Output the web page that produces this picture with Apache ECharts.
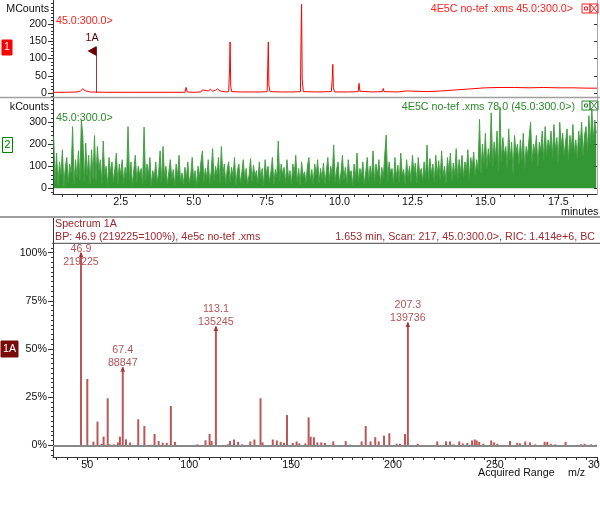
<!DOCTYPE html>
<html>
<head>
<meta charset="utf-8">
<script src="https://cdn.jsdelivr.net/npm/echarts@6.0.0/dist/echarts.min.js"></script>
<style>html,body{margin:0;padding:0;background:#fff}#main{width:600px;height:505px}</style>
</head>
<body>
<div id="main"></div>
<script>
// panel 1: TIC, 45.0:300.0> (MCounts)
var ticTime = [0.18,0.6,1.0,1.12,1.2,1.3,1.45,2.0,3.0,4.0,
  4.7,4.74,4.78,5.0,5.25,5.3,5.36,5.5,5.58,5.65,
  5.75,5.82,5.9,5.96,6.1,6.2,6.23,6.25,6.27,6.3,
  6.6,7.0,7.3,7.52,7.54,7.56,7.58,7.62,8.0,8.4,
  8.66,8.68,8.70,8.72,8.76,9.2,9.72,9.75,9.77,9.79,
  9.83,10.3,10.64,10.67,10.7,11.1,11.47,11.5,11.53,12.0,
  12.3,12.35,13.0,13.5,14.0,14.5,15.0,15.5,16.0,16.5,
  17.0,17.5,18.0,18.5,18.83];
var ticMCounts = [2,2,3,6,12,6,3,2,2,2,
  2,16,3,2,3,9,4,6,11,5,
  8,12,6,3,3,4,70,148,20,4,
  3,3,3,4,80,148,20,4,3,3,
  4,150,257,40,4,3,4,40,83,15,
  3,3,4,28,5,3,4,13,4,3,
  6,3,4,6,9,12,15,16,16,15,
  16,15,15,14,14];

// panel 2: ion 78.0 (kCounts), one value every 0.05 min from 0.20 min
var eicStart = 0.2, eicStep = 0.05;
var eicKCounts = [
  235,30,160,15,120,60,175,10,95,140,25,110,70,280,20,130,50,170,40,310,
  240,30,205,60,150,20,175,45,240,35,190,80,130,25,215,60,100,15,140,70,
  120,30,90,160,20,110,60,130,25,95,50,280,40,120,15,85,150,30,100,60,
  90,20,278,35,110,60,140,15,80,45,120,30,70,170,25,190,50,100,20,75,
  130,40,85,15,110,55,150,30,70,20,95,45,120,25,60,140,35,80,15,100,
  50,120,170,30,90,45,130,20,75,180,35,100,60,140,25,190,55,110,20,85,
  120,30,95,50,140,15,80,110,25,70,130,40,90,20,60,135,30,105,55,80,
  25,120,45,90,15,130,60,100,30,75,140,20,85,50,215,35,110,60,95,25,
  130,45,80,20,110,60,150,30,90,15,120,55,75,25,100,140,35,85,20,110,
  60,130,25,90,45,115,20,80,140,35,100,55,197,30,85,120,20,70,150,40,
  95,25,130,60,80,15,110,45,160,30,90,55,120,20,75,140,35,100,50,170,
  30,110,60,130,20,95,45,150,242,35,120,70,90,25,140,50,105,30,160,60,
  85,20,130,55,100,30,150,70,115,25,140,60,90,35,120,50,197,40,135,65,
  110,30,150,60,125,40,170,55,100,25,140,75,160,35,115,60,180,45,130,70,
  150,50,120,80,175,40,140,95,165,60,130,85,313,70,200,110,250,90,180,120,
  343,100,210,140,260,80,370,120,230,150,190,95,270,130,210,70,240,160,200,110,
  220,130,250,90,190,150,230,300,120,200,160,240,100,210,170,260,130,280,150,220,
  180,260,140,290,170,230,120,300,190,250,150,210,270,130,240,180,290,160,220,140,
  260,190,300,150,240,280,170,330,200,360,220,310,250];

// panel 3: spectrum 1A (m/z, % of base peak)
var specMz = [46.9,50,53,55,57,58,60,61,63,65,66,67.4,69,71,75,78,81,83,85,87,89,91,93,
  104,108,110,111,113.1,119,120,122,124,126,130,132,135,136,141,143,144.9,146.5,148,
  150.8,152.7,154,157,158.6,159.6,161.2,162.9,164.8,166.6,170.7,176.8,178.9,184.6,186.6,
  189,191.3,193,195.6,198.2,201.8,203.4,205.9,207.3,212.1,221.7,226,228,229.6,232.5,
  234.2,236.5,238.8,240.1,241.1,242.3,244.3,248.2,249.6,251.2,257.4,261,262.3,264.9,
  267.2,269.8,274.4,275.7,277.4,279.6,284.7,292.3,294,297.2,299.6];
var specPct = [100,34.4,1.9,12.3,0.8,4.5,24.4,0.5,0.5,1.5,4.5,40.5,3.1,1.5,13.5,10,0.3,5.9,2.2,1.3,1.3,20.4,1.8,
  0.5,2.6,5.9,2.2,61.7,0.5,2.2,3,1.8,0.5,2,3,24.4,1.5,3,2.5,1.8,1.3,15.7,
  1.3,2,1,1,14.5,4.5,4.2,1.5,1.5,1.2,2,2.2,0.3,2,10,
  2,4.2,2,5,6.2,0.8,0.8,5.9,63.7,0.8,2,2,2,0.5,2,
  1,1.3,2.5,3,2.5,1.8,0.8,2.5,1.5,0.8,2.2,1.3,1,2,
  1.5,0.5,1.8,1.8,0.8,0.5,1.8,0.5,0.8,0.5,0.3];
var peakMz = [46.9, 67.4, 113.1, 207.3];
var peakCounts = [219225, 88847, 135245, 139736];
var basePeak = 219225;
var scanTime = 1.653;

// tick labels
var timeTicks = [2.5, 5.0, 7.5, 10.0, 12.5, 15.0, 17.5];
var ticTicks = [0, 50, 100, 150, 200];
var eicTicks = [0, 100, 200, 300];
var pctTicks = [0, 25, 50, 75, 100];
var mzTicks = [50, 100, 150, 200, 250, 300];

var FF = "'Liberation Sans', Arial, sans-serif";
var FS = 10.7;
var FONT = FS + 'px ' + FF;
var RED = '#ff2020', GREEN = '#2a8a2a', BROWN = '#a0282d';
var tMin = 0.178, tMax = 18.827, mzMin = 33.17, mzMax = 300.1;

function range(a, b, s) {
    var r = [];
    for (var v = a; v <= b + 1e-9; v += s) r.push(+v.toFixed(3));
    return r;
}
function ax(o) {
    var base = {
	type : 'value',
	splitLine : { show : false },
	axisLine : { show : true, onZero : false, lineStyle : { color : '#333', width : 1 } },
	axisTick : { show : false },
	axisLabel : { show : false }
    };
    for (var k in o) base[k] = o[k];
    return base;
}
var noLine = { show : false, onZero : false };
function ticks(vals, len, inside) {
    return { show : true, length : len, inside : !!inside, customValues : vals, lineStyle : { color : '#333' } };
}
function labels(vals, margin, fmt) {
    return { show : true, customValues : vals, margin : margin, color : '#111',
	fontSize : FS, fontFamily : FF, formatter : fmt };
}
function txt(x, y, text, color, align) {
    return { type : 'text', x : x, y : y, silent : true, z : 10,
	style : { text : text, fill : color, font : FONT,
	    textAlign : align || 'left', textVerticalAlign : 'middle',
	    align : align || 'left', verticalAlign : 'middle' } };
}
function line(x1, y1, x2, y2, color, w) {
    return { type : 'line', silent : true, z : 5, shape : { x1 : x1, y1 : y1, x2 : x2, y2 : y2 },
	style : { stroke : color, lineWidth : w } };
}
function rect(x, y, w, h, fill, stroke) {
    return { type : 'rect', silent : true, z : 9, shape : { x : x, y : y, width : w, height : h },
	style : { fill : fill, stroke : stroke, lineWidth : 1 } };
}
function icons(y, color) {
    return [ rect(582, y, 8, 9, 'rgba(0,0,0,0)', color), rect(584.5, y + 3, 3, 3, 'rgba(0,0,0,0)', color),
	rect(590, y, 8, 9, 'rgba(0,0,0,0)', color),
	line(591, y + 1, 597, y + 8, color, 1), line(597, y + 1, 591, y + 8, color, 1) ];
}

var ticData = [];
for (var i = 0; i < Math.min(ticTime.length, ticMCounts.length); i++) ticData.push([ ticTime[i], ticMCounts[i] ]);
var eicData = eicKCounts.map(function(v, i) { return [ +(eicStart + i * eicStep).toFixed(3), v ]; });
var specData = specMz.map(function(m, i) { return [ m, specPct[i] ]; });
var peakData = peakMz.map(function(m, i) {
    var item = { value : [ m, peakCounts[i] / basePeak * 100 ], name : m.toFixed(1) + '\n' + peakCounts[i] };
    if (peakCounts[i] === basePeak) item.label = { offset : [ 0, 17 ] };
    return item;
});

var myChart = echarts.init(document.getElementById('main'));
var option = {
    animation : false,
    grid : [
	{ left : 53, right : 3, top : 0, height : 97, outerBoundsMode : 'none' },
	{ left : 53, right : 3, top : 98, height : 96, outerBoundsMode : 'none' },
	{ left : 53, right : 3, top : 217, height : 240, outerBoundsMode : 'none' }
    ],
    xAxis : [
	ax({ gridIndex : 0, position : 'bottom', min : tMin, max : tMax, axisLine : { show : true, onZero : false, lineStyle : { color : '#555' } } }),
	ax({ gridIndex : 1, position : 'bottom', min : tMin, max : tMax, axisTick : ticks(timeTicks, 5),
	    axisLabel : labels(timeTicks, 3, function(v) { return v.toFixed(1); }) }),
	ax({ gridIndex : 1, position : 'bottom', min : tMin, max : tMax, axisLine : noLine, axisTick : ticks(range(0.5, 18.5, 0.5), 3) }),
	ax({ gridIndex : 2, position : 'bottom', min : mzMin, max : mzMax, axisTick : ticks(mzTicks, 6),
	    axisLabel : labels(mzTicks, 3, function(v) { return String(v); }) }),
	ax({ gridIndex : 2, position : 'bottom', min : mzMin, max : mzMax, axisLine : noLine, axisTick : ticks(range(35, 300, 5), 3) })
    ],
    yAxis : [
	ax({ gridIndex : 0, position : 'left', min : -11.6, max : 269.6, axisTick : ticks(ticTicks, 5),
	    axisLabel : labels(ticTicks, 6, function(v) { return String(v); }) }),
	ax({ gridIndex : 0, position : 'left', min : -11.6, max : 269.6, axisLine : noLine, axisTick : ticks(range(-10, 260, 10), 2) }),
	ax({ gridIndex : 0, position : 'right', min : -11.6, max : 269.6, axisLine : { show : true, onZero : false, lineStyle : { color : '#aaa' } },
	    axisTick : ticks(ticTicks, 3, true) }),
	ax({ gridIndex : 1, position : 'left', min : -25.9, max : 410, axisTick : ticks(eicTicks, 5),
	    axisLabel : labels(eicTicks, 6, function(v) { return String(v); }) }),
	ax({ gridIndex : 1, position : 'left', min : -25.9, max : 410, axisLine : noLine, axisTick : ticks(range(-20, 400, 20), 2) }),
	ax({ gridIndex : 1, position : 'right', min : -25.9, max : 410, axisLine : { show : true, onZero : false, lineStyle : { color : '#aaa' } },
	    axisTick : ticks(eicTicks, 3, true) }),
	ax({ gridIndex : 2, position : 'left', min : -6.07, max : 118.5, axisTick : ticks(pctTicks, 5),
	    axisLabel : labels(pctTicks, 6, function(v) { return v + '%'; }) }),
	ax({ gridIndex : 2, position : 'left', min : -6.07, max : 118.5, axisLine : noLine, axisTick : ticks(range(-5, 102.5, 2.5), 2) })
    ],
    series : [ {
	name : 'TIC',
	type : 'line',
	xAxisIndex : 0,
	yAxisIndex : 0,
	showSymbol : false,
	symbol : 'none',
	lineStyle : { color : '#ff0000', width : 1 },
	data : ticData,
	markLine : {
	    silent : true,
	    symbol : [ 'none', 'none' ],
	    label : { show : false },
	    lineStyle : { color : '#9a3a3a', width : 1, type : 'solid' },
	    data : [ [ { coord : [ scanTime, 0 ] }, { coord : [ scanTime, 133 ] } ] ]
	},
	markPoint : {
	    silent : true,
	    data : [ {
		coord : [ scanTime, 122 ],
		symbol : 'triangle',
		symbolSize : [ 10, 9 ],
		symbolRotate : 90,
		symbolOffset : [ -4, 0 ],
		itemStyle : { color : '#6b0000' },
		label : { show : true, formatter : '1A', position : 'top', distance : 2, color : '#5a0000', fontSize : FS, fontFamily : FF }
	    } ]
	}
    }, {
	name : '78.0',
	type : 'line',
	xAxisIndex : 1,
	yAxisIndex : 3,
	showSymbol : false,
	symbol : 'none',
	lineStyle : { color : '#45a045', width : 1 },
	areaStyle : { color : '#0f860f', opacity : 0.85 },
	data : eicData
    }, {
	name : 'Spectrum 1A',
	type : 'bar',
	xAxisIndex : 3,
	yAxisIndex : 6,
	barWidth : 2,
	itemStyle : { color : '#bd5656' },
	data : specData,
	markLine : {
	    silent : true,
	    symbol : [ 'none', 'none' ],
	    label : { show : false },
	    lineStyle : { color : '#888', width : 2, type : 'solid' },
	    data : [ { yAxis : 0 } ]
	}
    }, {
	name : 'peaks',
	type : 'scatter',
	xAxisIndex : 3,
	yAxisIndex : 6,
	symbol : 'triangle',
	symbolSize : [ 5, 5 ],
	symbolOffset : [ 0, 2 ],
	itemStyle : { color : BROWN },
	label : {
	    show : true,
	    position : 'top',
	    distance : 1,
	    offset : [ 0, 4 ],
	    color : BROWN,
	    fontSize : FS,
	    fontFamily : FF,
	    lineHeight : 13,
	    align : 'center',
	    formatter : function(p) { return p.name; }
	},
	data : peakData,
	z : 5
    } ],
    graphic : [
	line(0, 97.5, 600, 97.5, '#a0a0a0', 1.5),
	line(0, 217, 600, 217, '#a0a0a0', 2),
	line(52, 243.3, 600, 243.3, '#444', 1),
	txt(49, 9, 'MCounts', '#111', 'right'),
	txt(56, 21, '45.0:300.0>', RED),
	txt(573, 9, '4E5C no-tef .xms 45.0:300.0>', RED, 'right'),
	txt(49, 107, 'kCounts', '#111', 'right'),
	txt(56, 118, '45.0:300.0>', GREEN),
	txt(575, 107, '4E5C no-tef .xms 78.0 (45.0:300.0>)', GREEN, 'right'),
	txt(561, 212, 'minutes', '#111'),
	txt(55, 224, 'Spectrum 1A', BROWN),
	txt(55, 237, 'BP: ' + peakMz[0] + ' (' + basePeak + '=100%), 4e5c no-tef .xms', BROWN),
	txt(595, 237, scanTime + ' min, Scan: 217, 45.0:300.0>, RIC: 1.414e+6, BC', BROWN, 'right'),
	txt(478, 473, 'Acquired Range', '#111'),
	txt(568, 473, 'm/z', '#111'),
	rect(2, 40, 10, 15, '#ff0000', '#ff0000'),
	txt(7, 47.5, '1', '#fff', 'center'),
	rect(2.5, 137.5, 10, 15, '#f2faf2', '#008000'),
	txt(7.5, 145, '2', '#008000', 'center'),
	rect(1, 341, 17, 16, '#7a0a0a', '#7a0a0a'),
	txt(9.5, 349, '1A', '#fff', 'center')
    ].concat(icons(4, RED), icons(101, GREEN))
};
myChart.setOption(option);
</script>
</body>
</html>
